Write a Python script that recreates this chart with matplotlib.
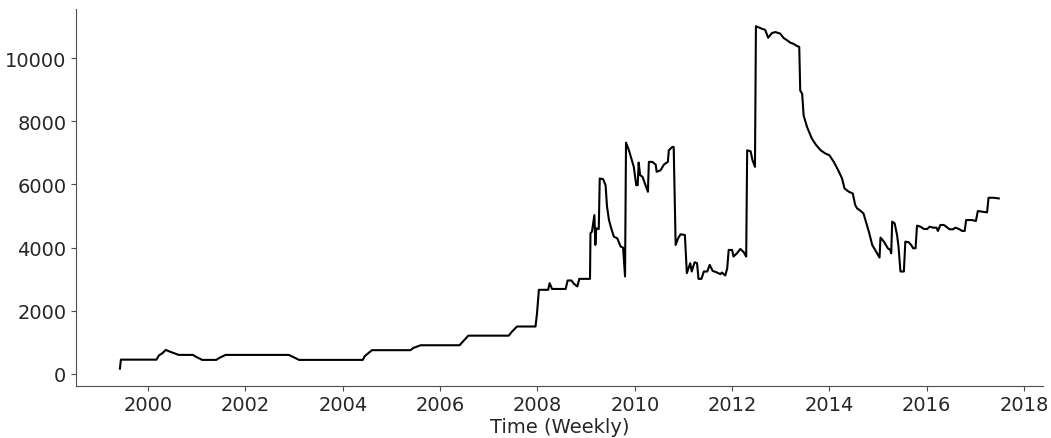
import matplotlib
matplotlib.use('Agg')
import matplotlib.pyplot as plt
from matplotlib.ticker import MultipleLocator

# weekly series (decimal year, value)
years = [
    1999.42, 1999.44, 2000.17, 2000.22, 2000.30, 2000.36, 2000.46, 2000.63,
    2000.92, 2001.00, 2001.11, 2001.40, 2001.45, 2001.59, 2002.89, 2002.99,
    2003.10, 2004.41, 2004.45, 2004.53, 2004.60, 2005.39, 2005.45, 2005.60,
    2006.40, 2006.46, 2006.58, 2007.41, 2007.47, 2007.58, 2007.96, 2007.99,
    2008.03, 2008.22, 2008.25, 2008.30, 2008.58, 2008.62, 2008.70, 2008.75,
    2008.82, 2008.86, 2009.08, 2009.09, 2009.12, 2009.17, 2009.19, 2009.21,
    2009.26, 2009.28, 2009.35, 2009.40, 2009.43, 2009.47, 2009.52, 2009.57,
    2009.64, 2009.71, 2009.76, 2009.80, 2009.82, 2009.88, 2009.93, 2009.98,
    2010.03, 2010.06, 2010.08, 2010.11, 2010.16, 2010.22, 2010.27, 2010.29,
    2010.36, 2010.43, 2010.45, 2010.53, 2010.60, 2010.68, 2010.70, 2010.77,
    2010.80, 2010.84, 2010.89, 2010.94, 2011.03, 2011.07, 2011.14, 2011.17,
    2011.23, 2011.28, 2011.31, 2011.37, 2011.42, 2011.49, 2011.54, 2011.60,
    2011.69, 2011.76, 2011.79, 2011.86, 2011.90, 2011.93, 2012.00, 2012.03,
    2012.10, 2012.17, 2012.24, 2012.29, 2012.31, 2012.38, 2012.42, 2012.47,
    2012.49, 2012.55, 2012.62, 2012.68, 2012.74, 2012.82, 2012.89, 2012.99,
    2013.06, 2013.13, 2013.20, 2013.26, 2013.33, 2013.38, 2013.40, 2013.44,
    2013.47, 2013.54, 2013.64, 2013.72, 2013.82, 2013.92, 2014.00, 2014.09,
    2014.18, 2014.26, 2014.31, 2014.40, 2014.48, 2014.53, 2014.57, 2014.62,
    2014.70, 2014.75, 2014.81, 2014.88, 2014.98, 2015.03, 2015.05, 2015.12,
    2015.20, 2015.25, 2015.27, 2015.29, 2015.34, 2015.39, 2015.42, 2015.46,
    2015.53, 2015.56, 2015.63, 2015.68, 2015.72, 2015.77, 2015.80, 2015.87,
    2015.94, 2016.01, 2016.06, 2016.13, 2016.20, 2016.23, 2016.28, 2016.35,
    2016.40, 2016.47, 2016.54, 2016.59, 2016.66, 2016.73, 2016.78, 2016.81,
    2016.93, 2017.01, 2017.05, 2017.24, 2017.27, 2017.37, 2017.48,
]
values = [
    165, 450, 450, 580, 663, 758, 695, 600,
    600, 527, 442, 442, 495, 600, 600, 527,
    442, 442, 558, 663, 750, 750, 821, 906,
    906, 1010, 1210, 1210, 1326, 1500, 1500, 1900,
    2663, 2663, 2874, 2690, 2690, 2958, 2958, 2852,
    2769, 3010, 3010, 4453, 4506, 5031, 4084, 4611,
    4590, 6190, 6168, 5978, 5296, 4874, 4590, 4348,
    4295, 4032, 4000, 3085, 7327, 7083, 6821, 6559,
    5978, 5978, 6695, 6294, 6243, 5978, 5769, 6717,
    6717, 6632, 6401, 6452, 6632, 6717, 7083, 7190,
    7190, 4084, 4295, 4421, 4400, 3190, 3505, 3243,
    3537, 3505, 3010, 3010, 3243, 3243, 3453, 3264,
    3211, 3158, 3211, 3117, 3347, 3926, 3926, 3716,
    3821, 3958, 3853, 3716, 7083, 7052, 6768, 6559,
    11015, 10975, 10930, 10900, 10650, 10800, 10830, 10780,
    10640, 10570, 10490, 10460, 10390, 10360, 8978, 8874,
    8189, 7822, 7453, 7264, 7083, 6979, 6926, 6717,
    6452, 6190, 5874, 5769, 5716, 5347, 5242, 5189,
    5084, 4822, 4506, 4084, 3821, 3685, 4317, 4190,
    3979, 3926, 3821, 4822, 4769, 4400, 4032, 3243,
    3243, 4190, 4169, 4084, 3979, 3979, 4696, 4664,
    4590, 4590, 4664, 4632, 4632, 4527, 4717, 4717,
    4664, 4580, 4580, 4632, 4590, 4527, 4527, 4874,
    4874, 4843, 5158, 5116, 5580, 5580, 5558,
]

text_col = '#262626'

fig = plt.figure(figsize=(10.51, 4.39), dpi=100)
ax = fig.add_axes([0.0723, 0.119, 0.9198, 0.858])

ax.plot(years, values, color='black', linewidth=1.5)

ax.xaxis.set_major_locator(MultipleLocator(2))
ax.xaxis.set_major_formatter(lambda v, pos: str(int(round(v))))
ax.set_xlabel('Time (Weekly)', fontsize=14, color=text_col, labelpad=2)
ax.tick_params(labelsize=14, labelcolor=text_col, color='0.3')

# only left and bottom spines
ax.spines['top'].set_visible(False)
ax.spines['right'].set_visible(False)
ax.spines['left'].set_color('0.3')
ax.spines['bottom'].set_color('0.3')

fig.savefig('out.png', dpi=100)
